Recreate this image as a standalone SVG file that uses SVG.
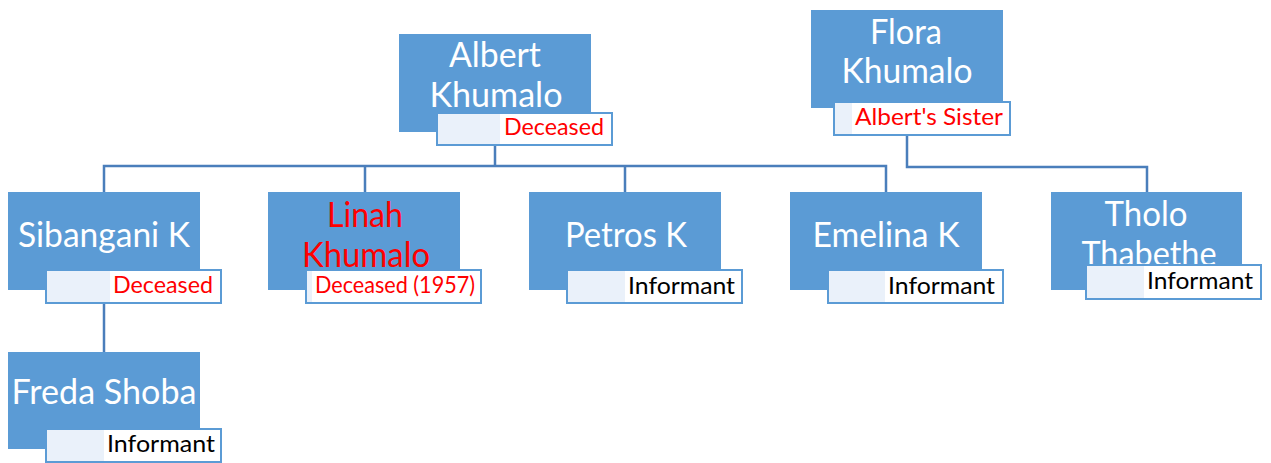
<svg xmlns="http://www.w3.org/2000/svg" width="1271" height="463" viewBox="0 0 1271 463">
<style>
.box{fill:#5B9BD5;}
.lbl{fill:#EAF1FA;stroke:#5B9BD5;stroke-width:2;}
.wh{fill:#FFFFFF;}
.name{font-family:Lato,"Open Sans",sans-serif;font-size:35px;fill:#FFFFFF;text-anchor:middle;}
.tag{font-family:Lato,"Open Sans",sans-serif;font-size:23px;text-anchor:end;fill:#000000;}
text.red{fill:#FF0000;}
.conn{fill:none;stroke:#4A7EBB;stroke-width:2.5;}
</style>
<rect width="1271" height="463" fill="#FFFFFF"/>
<g id="connectors">
<path class="conn" d="M495,145 V166 M104,193 V166 H886 V193 M365,166 V193 M625,166 V193"/>
<path class="conn" d="M907,136 V167 H1147 V193"/>
<path class="conn" d="M104,303 V352"/>
</g>
<g id="albert">
<rect class="box" x="399" y="34" width="192" height="98"/>
<text class="name" x="495" y="67" textLength="92" lengthAdjust="spacingAndGlyphs">Albert</text>
<text class="name" x="496" y="107" textLength="133" lengthAdjust="spacingAndGlyphs">Khumalo</text>
<rect class="lbl" x="437" y="113" width="175" height="32"/>
<rect class="wh" x="500" y="114" width="111" height="30"/>
<text class="tag red" x="604" y="135" textLength="100" lengthAdjust="spacingAndGlyphs">Deceased</text>
</g>
<g id="flora">
<rect class="box" x="811" y="10" width="192" height="98"/>
<text class="name" x="906" y="44" textLength="72" lengthAdjust="spacingAndGlyphs">Flora</text>
<text class="name" x="907" y="83" textLength="131" lengthAdjust="spacingAndGlyphs">Khumalo</text>
<rect class="lbl" x="834" y="102" width="176" height="33"/>
<rect class="wh" x="852" y="103" width="157" height="31"/>
<text class="tag red" x="1003" y="125" textLength="148" lengthAdjust="spacingAndGlyphs">Albert's Sister</text>
</g>
<g id="sibangani">
<rect class="box" x="8" y="192" width="192" height="98"/>
<text class="name" x="104" y="247" textLength="172" lengthAdjust="spacingAndGlyphs">Sibangani K</text>
<rect class="lbl" x="46" y="270" width="175" height="33"/>
<rect class="wh" x="110" y="271" width="110" height="31"/>
<text class="tag red" x="213" y="293" textLength="100" lengthAdjust="spacingAndGlyphs">Deceased</text>
</g>
<g id="linah">
<rect class="box" x="268" y="192" width="192" height="98"/>
<text class="name red" x="365" y="227" textLength="76" lengthAdjust="spacingAndGlyphs">Linah</text>
<text class="name red" x="366" y="267" textLength="128" lengthAdjust="spacingAndGlyphs">Khumalo</text>
<rect class="lbl" x="306" y="270" width="175" height="33"/>
<rect class="wh" x="312" y="271" width="168" height="31"/>
<text class="tag red" x="475" y="293" textLength="160" lengthAdjust="spacingAndGlyphs">Deceased (1957)</text>
</g>
<g id="petros">
<rect class="box" x="529" y="192" width="192" height="98"/>
<text class="name" x="626" y="247" textLength="122" lengthAdjust="spacingAndGlyphs">Petros K</text>
<rect class="lbl" x="567" y="270" width="175" height="33"/>
<rect class="wh" x="625" y="271" width="116" height="31"/>
<text class="tag" x="735" y="294" textLength="107" lengthAdjust="spacingAndGlyphs">Informant</text>
</g>
<g id="emelina">
<rect class="box" x="790" y="192" width="192" height="98"/>
<text class="name" x="886" y="247" textLength="147" lengthAdjust="spacingAndGlyphs">Emelina K</text>
<rect class="lbl" x="828" y="270" width="175" height="33"/>
<rect class="wh" x="885" y="271" width="117" height="31"/>
<text class="tag" x="995" y="294" textLength="107" lengthAdjust="spacingAndGlyphs">Informant</text>
</g>
<g id="tholo">
<rect class="box" x="1051" y="192" width="191" height="98"/>
<text class="name" x="1146" y="226" textLength="83" lengthAdjust="spacingAndGlyphs">Tholo</text>
<text class="name" x="1149" y="266" textLength="135" lengthAdjust="spacingAndGlyphs">Thabethe</text>
<rect class="lbl" x="1086" y="265" width="175" height="34"/>
<rect class="wh" x="1144" y="266" width="116" height="32"/>
<text class="tag" x="1253" y="289" textLength="106" lengthAdjust="spacingAndGlyphs">Informant</text>
</g>
<g id="freda">
<rect class="box" x="8" y="352" width="192" height="97"/>
<text class="name" x="104" y="404" textLength="185" lengthAdjust="spacingAndGlyphs">Freda Shoba</text>
<rect class="lbl" x="46" y="429" width="175" height="33"/>
<rect class="wh" x="104" y="430" width="116" height="31"/>
<text class="tag" x="215" y="452" textLength="108" lengthAdjust="spacingAndGlyphs">Informant</text>
</g>
</svg>
